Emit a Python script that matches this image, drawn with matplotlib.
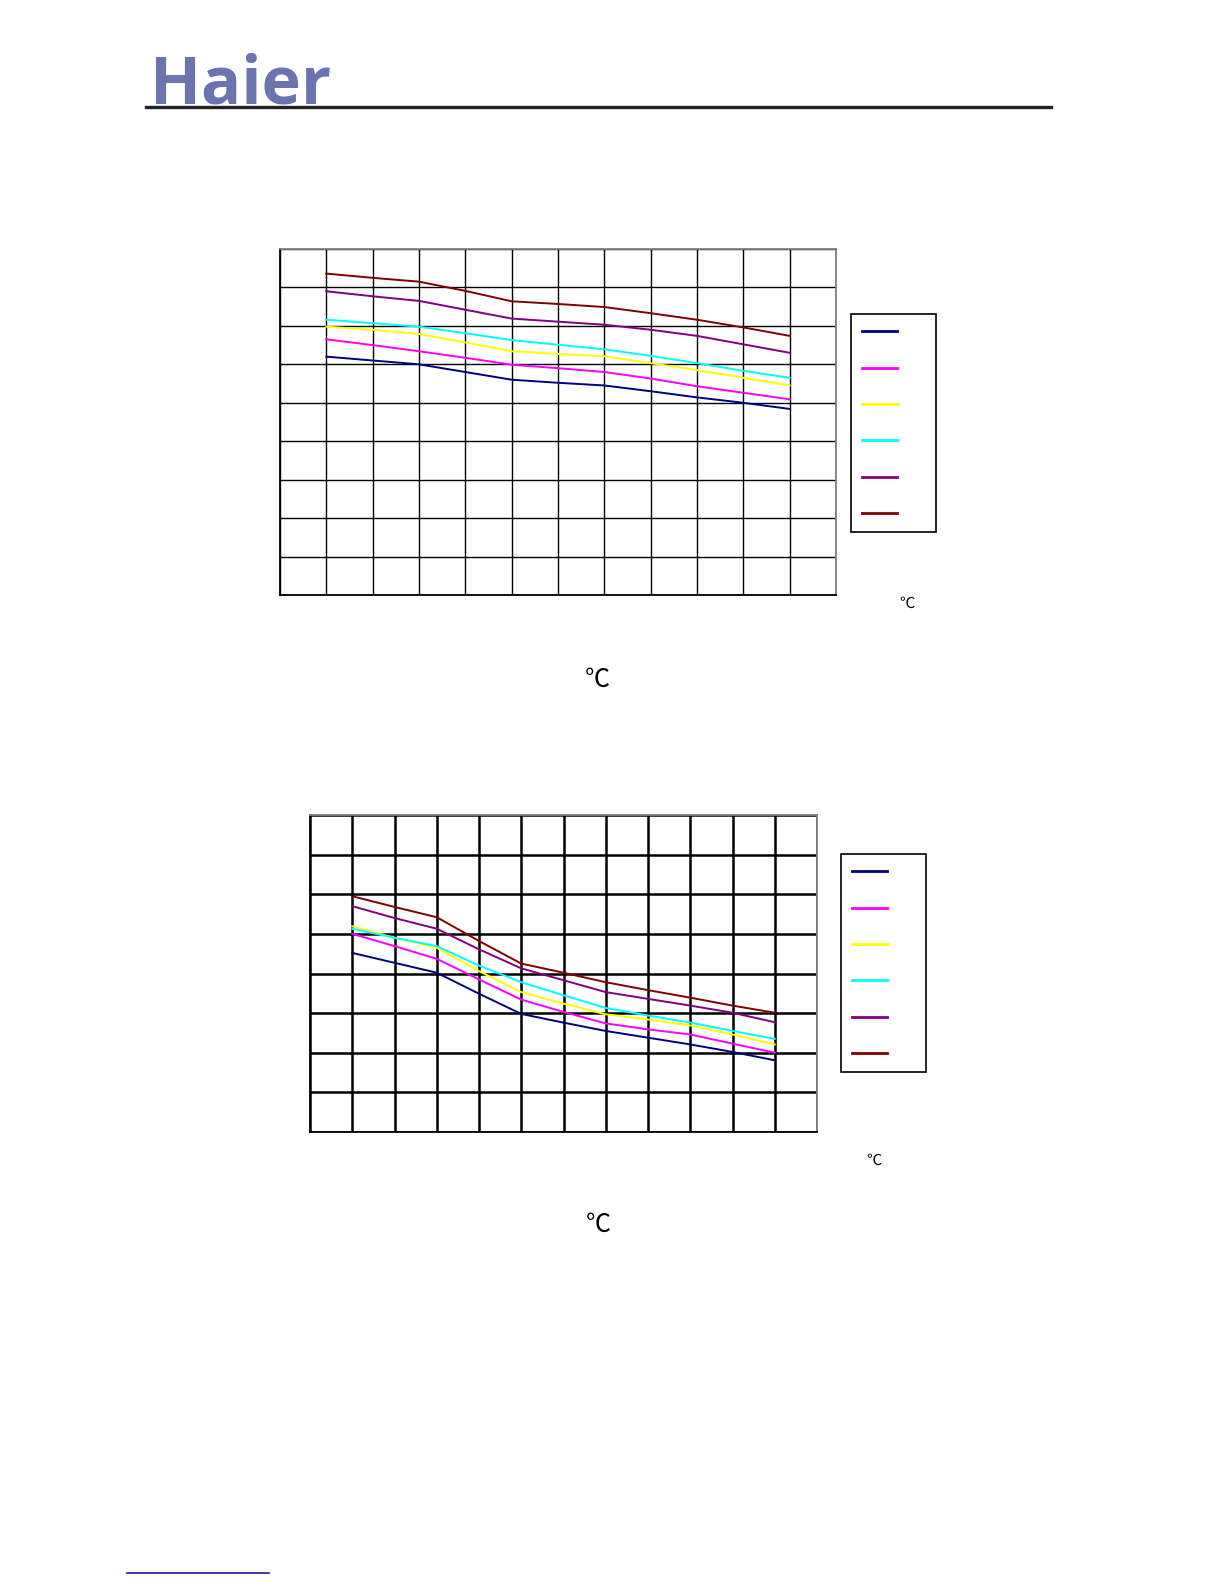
import matplotlib.pyplot as plt
from matplotlib.lines import Line2D

# -----------------------------------------------------------------------------
# Data (grid units: x column lines, y row lines)
# -----------------------------------------------------------------------------
x_points = [1, 2, 3, 4, 5, 6, 7, 8, 9, 10, 11]

series_colors = ['#000080', '#FF00FF', '#FFFF00', '#00FFFF', '#800080', '#800000']

# chart 1 (9 rows)
top_navy = [6.20, 6.10, 6.00, 5.80, 5.60, 5.52, 5.45, 5.30, 5.14, 5.00, 4.84]
top_magenta = [6.65, 6.50, 6.34, 6.17, 5.99, 5.90, 5.80, 5.63, 5.43, 5.26, 5.09]
top_yellow = [6.98, 6.90, 6.79, 6.57, 6.34, 6.27, 6.21, 6.03, 5.85, 5.65, 5.45]
top_cyan = [7.16, 7.07, 6.98, 6.81, 6.63, 6.51, 6.39, 6.22, 6.03, 5.83, 5.65]
top_purple = [7.90, 7.77, 7.65, 7.42, 7.19, 7.11, 7.03, 6.90, 6.74, 6.52, 6.30]
top_maroon = [8.36, 8.25, 8.15, 7.91, 7.64, 7.57, 7.49, 7.33, 7.16, 6.96, 6.74]

# chart 2 (8 rows)
bot_navy = [4.52, 4.27, 4.02, 3.49, 2.98, 2.76, 2.55, 2.38, 2.21, 2.02, 1.81]
bot_magenta = [5.00, 4.69, 4.37, 3.85, 3.34, 3.03, 2.74, 2.59, 2.46, 2.23, 2.00]
bot_yellow = [5.19, 4.90, 4.65, 4.06, 3.53, 3.24, 2.97, 2.84, 2.69, 2.46, 2.21]
bot_cyan = [5.13, 4.90, 4.69, 4.20, 3.78, 3.45, 3.13, 2.94, 2.76, 2.55, 2.35]
bot_purple = [5.70, 5.40, 5.13, 4.61, 4.13, 3.83, 3.53, 3.36, 3.19, 3.01, 2.77]
bot_maroon = [5.95, 5.68, 5.42, 4.82, 4.25, 4.02, 3.78, 3.58, 3.39, 3.19, 3.01]

top_series = [top_navy, top_magenta, top_yellow, top_cyan, top_purple, top_maroon]
bot_series = [bot_navy, bot_magenta, bot_yellow, bot_cyan, bot_purple, bot_maroon]

W, H = 1224, 1584
fig = plt.figure(figsize=(W / 100, H / 100), dpi=100)
plt.rcParams['font.family'] = ['Noto Sans CJK SC', 'DejaVu Sans']


def px_box(left, top, right, bottom):
    return [left / W, 1 - bottom / H, (right - left) / W, (bottom - top) / H]


def draw_chart(box, series, nrows, grid_lw, legend_anchor):
    ax = fig.add_axes(box)
    for ys, c in zip(series, series_colors):
        ax.plot(x_points, ys, color=c, lw=1.4, label=' ')
    ax.set_xlim(0, 12)
    ax.set_ylim(0, nrows)
    ax.set_xticks(range(13))
    ax.set_yticks(range(nrows + 1))
    ax.tick_params(length=0, labelbottom=False, labelleft=False)
    ax.grid(True, color='black', lw=grid_lw)
    ax.set_axisbelow(True)
    for side in ['top', 'right']:
        ax.spines[side].set_color('#808080')
    for side in ['left', 'bottom']:
        ax.spines[side].set_color('black')
    for s in ax.spines.values():
        s.set_linewidth(1.3)
    leg = ax.legend(loc='upper left', bbox_to_anchor=legend_anchor,
                    bbox_transform=fig.transFigure, fontsize=10,
                    handlelength=2.5, handletextpad=1.8, labelspacing=1.61,
                    borderpad=0.8, borderaxespad=0, fancybox=False,
                    framealpha=1, edgecolor='black')
    leg.get_frame().set_linewidth(1.2)
    for ln in leg.get_lines():
        ln.set_linewidth(2.0)
    return ax


draw_chart(px_box(280, 249, 836, 595), top_series, 9, 1.0, (851 / W, 1 - 314 / H))
draw_chart(px_box(310, 815, 817, 1132), bot_series, 8, 1.8, (841 / W, 1 - 854 / H))

# degree labels
fig.text(907 / W, 1 - 603 / H, '℃', fontsize=11, ha='center', va='center')
fig.text(597 / W, 1 - 680 / H, '℃', fontsize=18, ha='center', va='center')
fig.text(874 / W, 1 - 1160 / H, '℃', fontsize=11, ha='center', va='center')
fig.text(598 / W, 1 - 1225 / H, '℃', fontsize=18, ha='center', va='center')

# header logo and rule
fig.text(150 / W, 1 - 104 / H, 'Haier', fontsize=48, fontweight='bold',
         family='Open Sans', color='#6B74B1', ha='left', va='baseline')
fig.add_artist(Line2D([146 / W, 1051 / W], [1 - 107 / H, 1 - 107 / H],
                      color='#222222', lw=2.4))

# footer link underline
fig.add_artist(Line2D([127 / W, 269 / W], [1 - 1573 / H, 1 - 1573 / H],
                      color='#1A1AA0', lw=1.2))

fig.savefig('out.png', dpi=100)
